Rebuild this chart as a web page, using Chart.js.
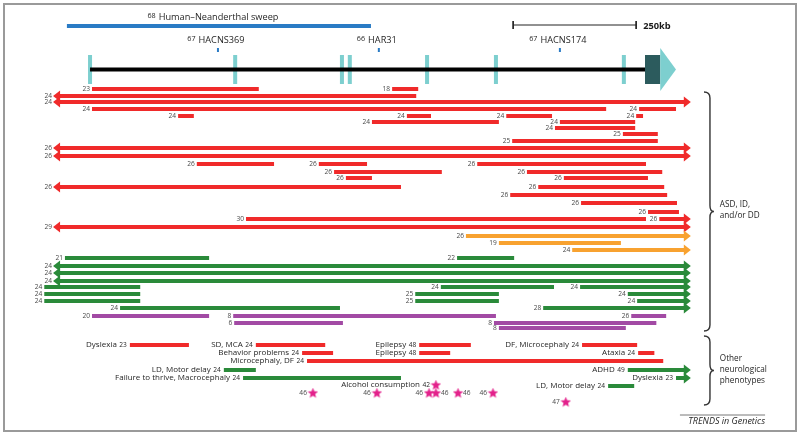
<!DOCTYPE html>
<html>
<head>
<meta charset="utf-8">
<title>Locus rearrangements</title>
<script src="https://cdn.jsdelivr.net/npm/chart.js@4.4.1/dist/chart.umd.min.js"></script>
<style>
  html, body { margin: 0; padding: 0; background: #fff; }
  canvas { display: block; }
</style>
</head>
<body>
<canvas id="myChart" width="800" height="436"></canvas>
<script>
// x = position along the locus in kb (0 = first exon), y = track lane
const exonPos = [0, 295, 512, 528, 685, 825, 1085];
const geneLine = [0, 1128];
const geneBlock = [1128, 1159];
const blockStripes = [1136, 1144, 1150];
const geneTip = 1191;
const sweepSpan = [-47, 571];
const sweepRef = '68';
const sweepName = 'Human–Neanderthal sweep';
const elementNames = ['HACNS369', 'HAR31', 'HACNS174'];
const elementRefs = ['67', '66', '67'];
const elementPos = [260, 587, 955];
const scaleBar = [860, 1110];
const scaleLabel = '250kb';

// [ref, start kb, end kb, lane, arrows]
const redCnvs = [
    ['23', 4, 343, 89, ''], ['18', 614, 667, 89, ''],
    ['24', -67, 663, 96, 'L'],
    ['24', -67, 1213, 102, 'LR'],
    ['24', 4, 1049, 109, ''], ['24', 1116, 1191, 109, ''],
    ['24', 179, 211, 116, ''], ['24', 644, 693, 116, ''], ['24', 846, 939, 116, ''], ['24', 1110, 1124, 116, ''],
    ['24', 573, 831, 122, ''], ['24', 955, 1108, 122, ''],
    ['24', 945, 1108, 128, ''],
    ['25', 1083, 1154, 134, ''],
    ['25', 858, 1154, 141, ''],
    ['26', -67, 1213, 148, 'LR'],
    ['26', -67, 1213, 156, 'LR'],
    ['26', 217, 374, 164, ''], ['26', 465, 563, 164, ''], ['26', 787, 1130, 164, ''],
    ['26', 496, 715, 172, ''], ['26', 888, 1163, 172, ''],
    ['26', 520, 573, 178, ''], ['26', 963, 1134, 178, ''],
    ['26', -67, 632, 187, 'L'], ['26', 911, 1167, 187, ''],
    ['26', 854, 1173, 195, ''],
    ['26', 998, 1193, 203, ''],
    ['26', 1134, 1197, 212, ''],
    ['30', 317, 1130, 219, ''], ['26', 1157, 1213, 219, 'R'],
    ['29', -67, 1213, 227, 'LR']
];
const orangeCnvs = [
    ['26', 764, 1213, 236, 'R'],
    ['19', 831, 1079, 243, ''],
    ['24', 980, 1213, 250, 'R']
];
const greenCnvs = [
    ['21', -51, 242, 258, ''], ['22', 746, 862, 258, ''],
    ['24', -67, 1213, 266, 'LR'],
    ['24', -67, 1213, 273, 'LR'],
    ['24', -67, 1213, 281, 'LR'],
    ['24', -93, 102, 287, ''], ['24', 713, 943, 287, ''], ['24', 996, 1213, 287, 'R'],
    ['24', -93, 102, 294, ''], ['25', 661, 831, 294, ''], ['24', 1093, 1213, 294, 'R'],
    ['24', -93, 102, 301, ''], ['25', 661, 831, 301, ''], ['24', 1112, 1213, 301, 'R'],
    ['24', 61, 508, 308, ''], ['28', 921, 1213, 308, 'R']
];
const purpleCnvs = [
    ['20', 4, 242, 316, ''], ['8', 291, 825, 316, ''], ['26', 1100, 1171, 316, ''],
    ['6', 293, 514, 323, ''], ['8', 821, 1151, 323, ''],
    ['8', 831, 1089, 328, '']
];

// [phenotype, ref, start kb, end kb, lane, colour, arrows]
const otherPhenotypes = [
    ['Dyslexia', '23', 81, 201, 345, 'red', ''],
    ['SD, MCA', '24', 337, 478, 345, 'red', ''],
    ['Epilepsy', '48', 669, 774, 345, 'red', ''],
    ['DF, Microcephaly', '24', 1000, 1112, 345, 'red', ''],
    ['Behavior problems', '24', 431, 494, 353, 'red', ''],
    ['Epilepsy', '48', 669, 732, 353, 'red', ''],
    ['Ataxia', '24', 1114, 1147, 353, 'red', ''],
    ['Microcephaly, DF', '24', 441, 1165, 361, 'red', ''],
    ['LD, Motor delay', '24', 272, 337, 370, 'green', ''],
    ['ADHD', '49', 1093, 1213, 370, 'green', 'R'],
    ['Failure to thrive, Macrocephaly', '24', 311, 632, 378, 'green', ''],
    ['Dyslexia', '23', 1191, 1213, 378, 'green', 'R'],
    ['LD, Motor delay', '24', 1053, 1106, 386, 'green', '']
];

// point variants / exposures: [pos kb, lane, ref, label side, text]
const stars = [
    [453, 393, '46', 'L', ''], [583, 393, '46', 'L', ''], [689, 393, '46', 'L', ''],
    [703, 393, '46', 'R', ''], [748, 393, '46', 'R', ''], [819, 393, '46', 'L', ''],
    [703, 385, '42', 'L', 'Alcohol consumption'],
    [967, 402, '47', 'L', '']
];

const groupLabels = [['ASD, ID,', 'and/or DD'], ['Other', 'neurological', 'phenotypes']];
const groupLanes = [[92, 331], [336, 405]];

const palette = { red: '#f02a2a', orange: '#f8a230', green: '#2a8a3a', purple: '#a24aa4' };
const cnvGroups = [[redCnvs, 'red'], [orangeCnvs, 'orange'], [greenCnvs, 'green'], [purpleCnvs, 'purple']];
const FONT = '"Open Sans", Lato, sans-serif';
const TEXT = '#262626';
const REFTEXT = '#484848';

function segment(x1, y1, x2, y2, color, width) {
    return {
        data: [{ x: x1, y: y1 }, { x: x2, y: y2 }],
        showLine: true,
        borderColor: color,
        backgroundColor: color,
        borderWidth: width,
        borderCapStyle: 'butt',
        pointRadius: 0
    };
}

const starImg = document.createElement('canvas');
starImg.width = 11;
starImg.height = 11;
(function () {
    const s = starImg.getContext('2d');
    s.fillStyle = '#e3218b';
    s.beginPath();
    for (let i = 0; i < 10; i++) {
        const r = i % 2 ? 2.4 : 5.5;
        const a = -Math.PI / 2 + i * Math.PI / 5;
        s.lineTo(5.5 + r * Math.cos(a), 5.8 + r * Math.sin(a));
    }
    s.closePath();
    s.fill();
})();

const datasets = [];
datasets.push(segment(sweepSpan[0], 26, sweepSpan[1], 26, '#2a7bc5', 4));
elementPos.forEach(p => datasets.push(segment(p, 48, p, 52, '#2a7bc5', 2)));
datasets.push(segment(scaleBar[0], 25, scaleBar[1], 25, '#222', 1));
scaleBar.forEach(p => datasets.push(segment(p, 21, p, 29, '#222', 1)));
datasets.push(segment(geneLine[0], 69.5, geneLine[1], 69.5, '#000', 4));
exonPos.forEach(p => datasets.push(segment(p, 55, p, 84, '#7dcfcf', 4)));
datasets.push(segment(geneBlock[0], 69.5, geneBlock[1], 69.5, '#2c5b5d', 29));
blockStripes.forEach(p => datasets.push(segment(p, 55, p, 84, '#55999a', 1)));

cnvGroups.forEach(([rows, color]) => {
    rows.forEach(r => datasets.push(segment(r[1], r[3], r[2], r[3], palette[color], 4)));
});
otherPhenotypes.forEach(r => datasets.push(segment(r[2], r[4], r[3], r[4], palette[r[5]], 4)));

datasets.push({
    data: stars.map(s => ({ x: s[0], y: s[1] })),
    pointStyle: starImg,
    pointRadius: 5,
    showLine: false
});

function arrowHead(c, px, py, dir, color) {
    c.fillStyle = color;
    c.beginPath();
    c.moveTo(px + dir * 4, py);
    c.lineTo(px - dir * 3, py - 5.5);
    c.lineTo(px - dir * 3, py + 5.5);
    c.closePath();
    c.fill();
}

function brace(c, x, y1, y2, w) {
    const ym = (y1 + y2) / 2;
    c.beginPath();
    c.moveTo(x - w, y1);
    c.quadraticCurveTo(x, y1, x, y1 + w);
    c.lineTo(x, ym - w);
    c.quadraticCurveTo(x, ym, x + 4, ym);
    c.quadraticCurveTo(x, ym, x, ym + w);
    c.lineTo(x, y2 - w);
    c.quadraticCurveTo(x, y2, x - w, y2);
    c.stroke();
}

// small reference number followed by a name, centred on cx
function refAndName(c, ref, name, cx, cy, size) {
    c.font = '7.2px ' + FONT;
    const wr = c.measureText(ref).width;
    c.font = size + 'px ' + FONT;
    const wn = c.measureText(name).width;
    const left = cx - (wr + 3 + wn) / 2;
    c.textAlign = 'left';
    c.fillStyle = TEXT;
    c.font = '7.2px ' + FONT;
    c.fillText(ref, left, cy - 1.5);
    c.font = size + 'px ' + FONT;
    c.fillText(name, left + wr + 3, cy);
}

// name followed by a small reference number, right edge at rx
function nameAndRef(c, name, ref, rx, cy) {
    c.textAlign = 'right';
    c.fillStyle = TEXT;
    c.font = '6.6px ' + FONT;
    const wr = c.measureText(ref).width;
    c.fillText(ref, rx, cy + 0.5);
    c.font = '8px ' + FONT;
    c.fillText(name, rx - wr - 2.5, cy);
}

const overlay = {
    id: 'overlay',
    afterDatasetsDraw(chart) {
        const c = chart.ctx;
        const sx = v => chart.scales.x.getPixelForValue(v);
        const sy = v => chart.scales.y.getPixelForValue(v);
        c.save();
        c.textBaseline = 'middle';

        refAndName(c, sweepRef, sweepName, sx((sweepSpan[0] + sweepSpan[1]) / 2) - 6, sy(17), 9.2);
        elementNames.forEach((n, i) => refAndName(c, elementRefs[i], n, sx(elementPos[i]) - 2, sy(40), 9.2));
        c.font = 'bold 9.3px ' + FONT;
        c.textAlign = 'left';
        c.fillStyle = '#1a1a1a';
        c.fillText(scaleLabel, sx(scaleBar[1]) + 7, sy(26));

        // gene 3' end arrow
        c.fillStyle = '#7dcfcf';
        c.beginPath();
        c.moveTo(sx(geneBlock[1]), sy(48));
        c.lineTo(sx(geneTip), sy(69.5));
        c.lineTo(sx(geneBlock[1]), sy(91));
        c.closePath();
        c.fill();

        cnvGroups.forEach(([rows, color]) => {
            rows.forEach(([ref, start, end, lane, arrows]) => {
                const yy = sy(lane);
                if (arrows.includes('L')) arrowHead(c, sx(start), yy, -1, palette[color]);
                if (arrows.includes('R')) arrowHead(c, sx(end), yy, 1, palette[color]);
                c.font = '6.6px ' + FONT;
                c.fillStyle = REFTEXT;
                c.textAlign = 'right';
                c.fillText(ref, sx(start) - (arrows.includes('L') ? 5 : 2), yy + 0.5);
            });
        });

        otherPhenotypes.forEach(([name, ref, start, end, lane, color, arrows]) => {
            if (arrows.includes('R')) arrowHead(c, sx(end), sy(lane), 1, palette[color]);
            nameAndRef(c, name, ref, sx(start) - 3, sy(lane));
        });

        stars.forEach(([pos, lane, ref, side, text]) => {
            const yy = sy(lane);
            if (text) {
                nameAndRef(c, text, ref, sx(pos) - 6, yy);
            } else {
                c.fillStyle = REFTEXT;
                c.font = '6.6px ' + FONT;
                c.textAlign = side === 'L' ? 'right' : 'left';
                c.fillText(ref, sx(pos) + (side === 'L' ? -6 : 5), yy + 0.5);
            }
        });

        // group braces
        c.strokeStyle = '#333';
        c.lineWidth = 1.4;
        groupLanes.forEach(([a, b], i) => {
            brace(c, sx(1260), sy(a), sy(b), 6);
            const lines = groupLabels[i];
            const mid = sy((a + b) / 2) - 1;
            c.font = '8.2px ' + FONT;
            c.fillStyle = TEXT;
            c.textAlign = 'left';
            lines.forEach((t, k) => c.fillText(t, sx(1280), mid + (k - (lines.length - 1) / 2) * 11));
        });

        // journal tag and frame
        c.strokeStyle = '#555';
        c.lineWidth = 0.8;
        c.beginPath();
        c.moveTo(sx(1199), sy(415));
        c.lineTo(sx(1372), sy(415));
        c.stroke();
        c.font = 'italic 9px ' + FONT;
        c.fillStyle = TEXT;
        c.textAlign = 'right';
        c.fillText('TRENDS in Genetics', sx(1372), sy(421));

        const a = chart.chartArea;
        c.strokeStyle = '#9a9a9a';
        c.lineWidth = 2;
        c.strokeRect(a.left + 4, a.top + 4, a.width - 8, a.height - 9);
        c.restore();
    }
};

const ctx = document.getElementById('myChart').getContext('2d');
const myChart = new Chart(ctx, {
    type: 'scatter',
    data: { datasets: datasets },
    options: {
        responsive: false,
        animation: false,
        devicePixelRatio: 1,
        events: [],
        layout: { padding: 0, autoPadding: false },
        plugins: {
            legend: { display: false },
            tooltip: { enabled: false }
        },
        scales: {
            x: { type: 'linear', display: false, min: -183, max: 1443 },
            y: { type: 'linear', display: false, min: 0, max: 436, reverse: true }
        }
    },
    plugins: [overlay]
});
</script>
</body>
</html>
